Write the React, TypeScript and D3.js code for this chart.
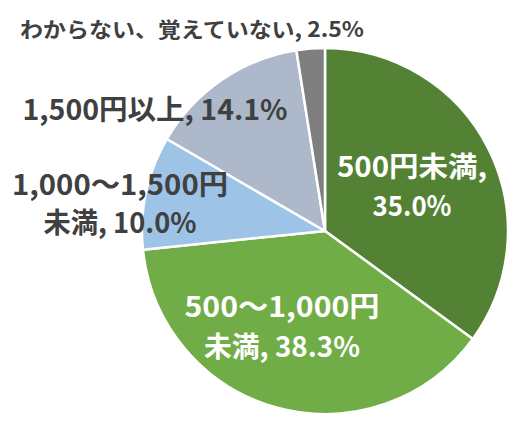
import React from "react";
import * as d3 from "d3";

// slices, clockwise from 12 o'clock
const categories = [
  "500円未満",
  "500～1,000円未満",
  "1,000～1,500円未満",
  "1,500円以上",
  "わからない、覚えていない",
];
const values = [35.0, 38.3, 10.0, 14.1, 2.5];
const colors = ["#548235", "#70AD47", "#9DC3E6", "#ADB9CA", "#7F7F7F"];

// label lines per slice (as drawn in the original)
const labelLines = [
  ["500円未満,", "35.0%"],
  ["500～1,000円", "未満, 38.3%"],
  ["1,000～1,500円", "未満, 10.0%"],
  ["1,500円以上, 14.1%"],
  ["わからない、覚えていない, 2.5%"],
];

// label layout: anchor x, first baseline, line gap, font size, colour, widths
const labelLayout = [
  { x: 412, y: 177, gap: 39, size: 28, fill: "#ffffff", widths: [150, 79] },
  { x: 282, y: 317, gap: 40, size: 28, fill: "#ffffff", widths: [195, 156] },
  { x: 120, y: 195, gap: 38, size: 28, fill: "#404040", widths: [216, 153] },
  { x: 155, y: 120, gap: 0, size: 28, fill: "#404040", widths: [265] },
  { x: 192, y: 37, gap: 0, size: 21, fill: "#404040", widths: [344] },
];

const W = 516;
const H = 422;
const cx = 325;
const cy = 231;
const R = 183;

export default function App() {
  const pie = d3
    .pie<number>()
    .sort(null)
    .value((d) => d);
  const arcs = pie(values);
  const arc = d3.arc<d3.PieArcDatum<number>>().innerRadius(0).outerRadius(R);

  return (
    <div style={{ position: "absolute", left: 0, top: 0 }}>
      <svg width={W} height={H} style={{ display: "block" }}>
        <rect width={W} height={H} fill="#ffffff" />
        <g transform={`translate(${cx},${cy})`}>
          {arcs.map((a, i) => (
            <path
              key={categories[i]}
              d={arc(a) || ""}
              fill={colors[i]}
              stroke="#ffffff"
              strokeWidth={2.5}
              strokeLinejoin="round"
            />
          ))}
        </g>
        <g
          fontFamily="'Noto Sans CJK JP', 'Noto Sans', sans-serif"
          fontWeight={700}
          textAnchor="middle"
        >
          {labelLines.map((lines, i) => {
            const l = labelLayout[i];
            return lines.map((t, j) => (
              <text
                key={`${i}-${j}`}
                x={l.x}
                y={l.y + j * l.gap}
                fontSize={l.size}
                fill={l.fill}
                textLength={l.widths[j]}
                lengthAdjust="spacingAndGlyphs"
              >
                {t}
              </text>
            ));
          })}
        </g>
      </svg>
    </div>
  );
}
